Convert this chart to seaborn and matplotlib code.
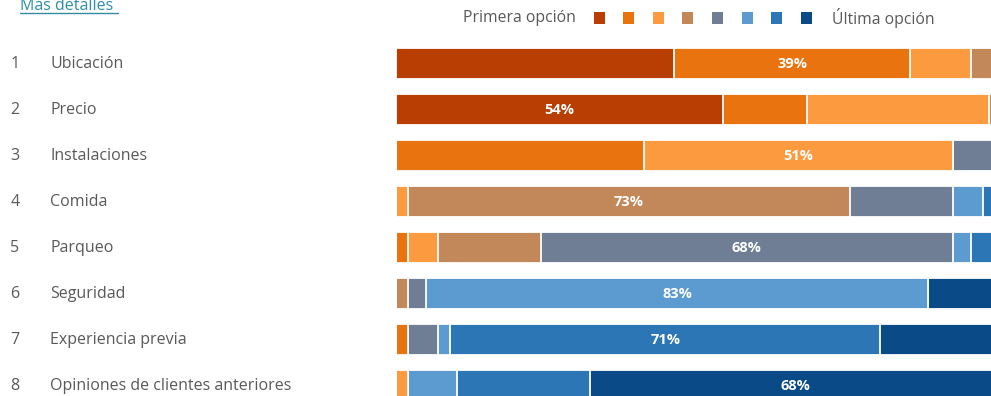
import matplotlib
matplotlib.use("Agg")
import matplotlib.pyplot as plt
import matplotlib.transforms as mtransforms
from matplotlib.patches import Rectangle
from matplotlib.lines import Line2D
import pandas as pd
import seaborn as sns

# ---- data -------------------------------------------------------------
categories = [
    "Ubicación",
    "Precio",
    "Instalaciones",
    "Comida",
    "Parqueo",
    "Seguridad",
    "Experiencia previa",
    "Opiniones de clientes anteriores",
]
ranks = ["1", "2", "3", "4", "5", "6", "7", "8"]
option_names = ["1ª", "2ª", "3ª", "4ª", "5ª", "6ª", "7ª", "8ª"]

# share (%) of respondents choosing each position, first to last option
ubicacion     = [46, 39, 10, 5, 0, 0, 0, 0]
precio        = [54, 14, 30, 2, 0, 0, 0, 0]
instalaciones = [0, 41, 51, 0, 8, 0, 0, 0]
comida        = [0, 0, 2, 73, 17, 5, 3, 0]
parqueo       = [0, 2, 5, 17, 68, 3, 5, 0]
seguridad     = [0, 0, 0, 2, 3, 83, 0, 12]
experiencia   = [0, 2, 0, 0, 5, 2, 71, 20]
opiniones     = [0, 0, 2, 0, 0, 8, 22, 68]

# which option's share is written on each row
labelled_option = [1, 0, 2, 3, 4, 5, 6, 7]

option_colors = ["#b83e04", "#e9730e", "#fb9a3f", "#c3885a",
                 "#6f7e94", "#5c9bd0", "#2c76b6", "#0a4a86"]

legend_first = "Primera opción"
legend_last = "Última opción"
link_text = "Más detalles"

# ---- table ------------------------------------------------------------
rows = [ubicacion, precio, instalaciones, comida,
        parqueo, seguridad, experiencia, opiniones]
df = pd.DataFrame(rows, index=categories, columns=option_names)
cum = df.cumsum(axis=1)

sns.set_theme(style="white")
plt.rcParams["font.family"] = ["Open Sans", "DejaVu Sans"]

W, H = 991, 396
fig = plt.figure(figsize=(W / 100, H / 100), dpi=100)
fig.patch.set_facecolor("white")

# bar area: 0..100 % spans x=396..1001 px, one row every 46 px
x0_px, x100_px = 396, 1001
top_px, step_px = 40.5, 46
n = len(categories)
ax = fig.add_axes([x0_px / W,
                   (H - (top_px + n * step_px)) / H,
                   (x100_px - x0_px) / W,
                   n * step_px / H])

# stacked bars: draw cumulative totals from last option to first
for k in range(len(option_names) - 1, -1, -1):
    col = option_names[k]
    plot_df = pd.DataFrame({"cat": categories, "val": cum[col].values})
    sns.barplot(data=plot_df, x="val", y="cat", orient="h",
                color=option_colors[k], width=0.67, saturation=1,
                edgecolor="white", linewidth=1.3, ax=ax)

ax.set_xlim(0, 100)
ax.set_ylim(n - 0.5, -0.5)
ax.axis("off")

# percentage label on one segment of each row
for i, cat in enumerate(categories):
    k = labelled_option[i]
    v = df.iloc[i, k]
    left = cum.iloc[i, k] - v
    ax.text(left + v / 2, i, f"{v}%", ha="center", va="center",
            color="white", fontsize=10.5, fontweight="bold")

# row labels on the left
trans = mtransforms.blended_transform_factory(fig.transFigure, ax.transData)
label_color = "#595959"
for i, (r, cat) in enumerate(zip(ranks, categories)):
    ax.text(15 / W, i, r, transform=trans, ha="center", va="center",
            color=label_color, fontsize=11.5, clip_on=False)
    ax.text(50 / W, i, cat, transform=trans, ha="left", va="center",
            color=label_color, fontsize=11.5, clip_on=False)

# legend strip at the top
ly = 18
fig.text(576 / W, 1 - ly / H, legend_first, ha="right", va="center",
         color=label_color, fontsize=11.3)
sq = 11
for k, c in enumerate(option_colors):
    cx = 599 + 29.6 * k
    fig.add_artist(Rectangle(((cx - sq / 2) / W, 1 - (ly + sq / 2) / H),
                             sq / W, sq / H, transform=fig.transFigure,
                             facecolor=c, edgecolor="none"))
fig.text(832 / W, 1 - ly / H, legend_last, ha="left", va="center",
         color=label_color, fontsize=11.3)

# link at the top-left
link_color = "#2e8ea3"
fig.text(20 / W, 1 - 10.5 / H, link_text, ha="left", va="baseline",
         color=link_color, fontsize=11.5)
fig.add_artist(Line2D([20 / W, 118 / W], [1 - 12.5 / H, 1 - 12.5 / H],
                      transform=fig.transFigure, color=link_color, lw=1))

fig.savefig("out.png", dpi=100, facecolor="white")
